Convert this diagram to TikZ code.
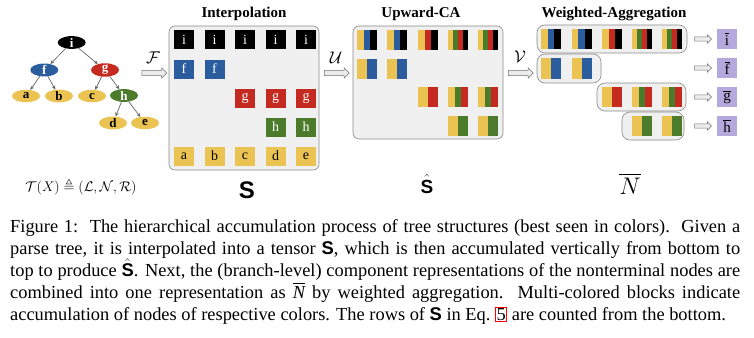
\RequirePackage{fix-cm}
\documentclass[tikz,border=0pt]{standalone}
\usepackage{amssymb}
\usepackage{graphicx}
\usepackage{fontspec}
\setmainfont{Liberation Serif}
\newfontfamily\hv{Liberation Sans}
\usetikzlibrary{shapes.geometric,shapes.arrows,arrows.meta}
\definecolor{cY}{HTML}{EBC352}
\definecolor{cB}{HTML}{2B5C9E}
\definecolor{cR}{HTML}{C42A20}
\definecolor{cG}{HTML}{4C7B2B}
\definecolor{cK}{HTML}{000000}
\definecolor{cP}{HTML}{B4A9DC}
\definecolor{panelfill}{HTML}{F0F0F0}
\definecolor{panelline}{HTML}{8A8A8A}
\newcommand\scell[4]{%
  \node[cellbox] (#1) at (#2,#3) {};
  \foreach \c [count=\k] in {#4} {\xdef\nstr{\k}}
  \foreach \c [count=\k] in {#4} {
    \pgfmathsetmacro\xa{#2-10+20*(\k-1)/\nstr}
    \pgfmathsetmacro\xb{#2-10+20*\k/\nstr}
    \fill[\c] (\xa,#3-10) rectangle (\xb,#3+10);
  }
}
\begin{document}
\begin{tikzpicture}[x=1pt,y=-1pt,
  tnode/.style={ellipse,minimum width=28pt,minimum height=12.5pt,inner sep=0pt,
    font=\fontsize{13}{13}\selectfont\bfseries},
  tedge/.style={draw=black!60,line width=0.7pt,-{Stealth[length=4pt,width=3.6pt]}},
  panel/.style={draw=panelline,fill=panelfill,rounded corners=6pt,line width=0.6pt,inner sep=0pt},
  title/.style={font=\fontsize{15}{15}\selectfont\bfseries},
  cell/.style={minimum width=20pt,minimum height=19pt,inner sep=0pt,
    font=\fontsize{14}{14}\selectfont},
  cellK/.style={cell,fill=cK,text=white},
  cellB/.style={cell,fill=cB,text=white},
  cellR/.style={cell,fill=cR,text=white},
  cellG/.style={cell,fill=cG,text=white},
  cellY/.style={cell,fill=cY,text=black},
  cellbox/.style={minimum width=20pt,minimum height=20pt,inner sep=0pt},
  barrow/.style={single arrow,draw=black!55,fill=black!8,line width=0.5pt,
    minimum height=25pt,inner xsep=0pt,inner ysep=2.3pt,
    single arrow head extend=2.5pt,single arrow head indent=0pt},
  sarrow/.style={barrow,minimum height=17pt,inner ysep=1.8pt,single arrow head extend=2.2pt},
  outcell/.style={minimum width=20pt,minimum height=20pt,inner sep=0pt,fill=cP,
    font=\fontsize{15}{15}\selectfont},
  op/.style={font=\fontsize{17}{17}\selectfont}
]
\useasboundingbox (0,0) rectangle (754,337);

% ---------------- tree
\node[tnode,fill=cK,text=white] (ti) at (71.7,42.5) {i};
\node[tnode,fill=cB,text=white] (tf) at (44.3,70) {f};
\node[tnode,fill=cR,text=white] (tg) at (105,70) {g};
\node[tnode,fill=cY] (ta) at (26,96) {a};
\node[tnode,fill=cY] (tb) at (59,96) {b};
\node[tnode,fill=cY] (tc) at (92,96) {c};
\node[tnode,fill=cG,text=white] (th) at (124,95.5) {h};
\node[tnode,fill=cY] (td) at (113,123) {d};
\node[tnode,fill=cY] (te) at (145,123) {e};
\foreach \p/\q in {ti/tf,ti/tg,tf/ta,tf/tb,tg/tc,tg/th,th/td,th/te}
  \draw[tedge] (\p) -- (\q);
\node[font=\fontsize{14}{14}\selectfont] (tx) at (81,187)
  {$\mathcal{T}(X)\triangleq(\mathcal{L},\mathcal{N},\mathcal{R})$};

% ---------------- arrows between stages
\node[barrow] (arrF) at (153,73) {};
\node[op] (lF) at (153,58) {$\mathcal{F}$};
\node[barrow] (arrU) at (335.5,73) {};
\node[op] (lU) at (336,58) {$\mathcal{U}$};
\node[barrow] (arrV) at (519.5,73) {};
\node[op] (lV) at (520,57) {$\mathcal{V}$};

% ---------------- Interpolation
\node[title] (tInt) at (244,14) {Interpolation};
\node[panel,minimum width=150pt,minimum height=144pt] (pInt) at (244,98) {};
\foreach \cx [count=\k] in {184,214.5,245,275.5,306}
  \node[cellK] (Si\k) at (\cx,40) {i};
\node[cellB] (Sf1) at (184,69) {f};
\node[cellB] (Sf2) at (214.5,69) {f};
\node[cellR] (Sg3) at (245,98) {g};
\node[cellR] (Sg4) at (275.5,98) {g};
\node[cellR] (Sg5) at (306,98) {g};
\node[cellG] (Sh4) at (275.5,127) {h};
\node[cellG] (Sh5) at (306,127) {h};
\foreach \cx/\l in {184/a,214.5/b,245/c,275.5/d,306/e}
  \node[cellY] (S\l) at (\cx,156) {\l};
\node[font=\fontsize{24}{24}\selectfont\hv\bfseries] (lS) at (247,190) {S};

% ---------------- Upward-CA
\node[title] (tUp) at (421,14) {Upward-CA};
\node[panel,minimum width=150pt,minimum height=113pt] (pUp) at (428,82.5) {};
\scell{U11}{367}{40}{cY,cB,cK}
\scell{U12}{397}{40}{cY,cB,cK}
\scell{U13}{428}{40}{cY,cR,cK}
\scell{U14}{458}{40}{cY,cG,cR,cK}
\scell{U15}{488}{40}{cY,cG,cR,cK}
\scell{U21}{367}{68.7}{cY,cB}
\scell{U22}{397}{68.7}{cY,cB}
\scell{U33}{428}{97.3}{cY,cR}
\scell{U34}{458}{97.3}{cY,cG,cR}
\scell{U35}{488}{97.3}{cY,cG,cR}
\scell{U44}{458}{126}{cY,cG}
\scell{U45}{488}{126}{cY,cG}
\node[font=\fontsize{19}{19}\selectfont] (lSh) at (427,184)
  {$\hat{\mbox{\hv\bfseries S}}$};

% ---------------- Weighted-Aggregation
\node[title] (tWA) at (614,14) {Weighted-Aggregation};
\node[panel,rounded corners=8pt,minimum width=150pt,minimum height=28pt] (r1) at (612,39) {};
\node[panel,rounded corners=8pt,minimum width=64pt,minimum height=29pt] (r2) at (569,68.5) {};
\node[panel,rounded corners=8pt,minimum width=89pt,minimum height=28pt] (r3) at (641.5,97) {};
\node[panel,rounded corners=8pt,minimum width=62pt,minimum height=28pt] (r4) at (653,126) {};
\scell{W11}{551}{39}{cY,cB,cK}
\scell{W12}{581.5}{39}{cY,cB,cK}
\scell{W13}{612}{39}{cY,cR,cK}
\scell{W14}{642}{39}{cY,cG,cR,cK}
\scell{W15}{672}{39}{cY,cG,cR,cK}
\scell{W21}{551}{68.5}{cY,cB}
\scell{W22}{581.5}{68.5}{cY,cB}
\scell{W33}{612}{97}{cY,cR}
\scell{W34}{642}{97}{cY,cG,cR}
\scell{W35}{672}{97}{cY,cG,cR}
\scell{W44}{642}{126}{cY,cG}
\scell{W45}{672}{126}{cY,cG}
\foreach \yy/\l [count=\k] in {39/i,68/f,97/g,126/h} {
  \node[sarrow] (wa\k) at (702,\yy) {};
  \node[outcell] (o\k) at (727,\yy) {$\overline{\mbox{\l}}$};
}
\node[font=\fontsize{24}{24}\selectfont] (lN) at (630,184) {$\overline{N}$};

% ---------------- caption
\node[anchor=north west,inner sep=0pt,text width=730pt,align=justify,
  font=\fontsize{18.4}{22}\selectfont] (cap) at (10,219) {%
Figure 1:\ \ The hierarchical accumulation process of tree structures (best seen in colors).\ \ Given a\linebreak
parse tree, it is interpolated into a tensor {\hv\bfseries S}, which is then accumulated vertically from bottom to\linebreak
top to produce $\hat{\mbox{\hv\bfseries S}}$. Next, the (branch-level) component representations of the nonterminal nodes are\linebreak
combined into one representation as $\overline{\mbox{\itshape N}}$ by weighted aggregation.\ \ Multi-colored blocks indicate\linebreak
accumulation of nodes of respective colors. The rows of {\hv\bfseries S} in Eq.~{\setlength\fboxsep{0.6pt}\setlength\fboxrule{0.9pt}\fcolorbox{red}{white}{5}} are counted from the bottom.};
\end{tikzpicture}
\end{document}
